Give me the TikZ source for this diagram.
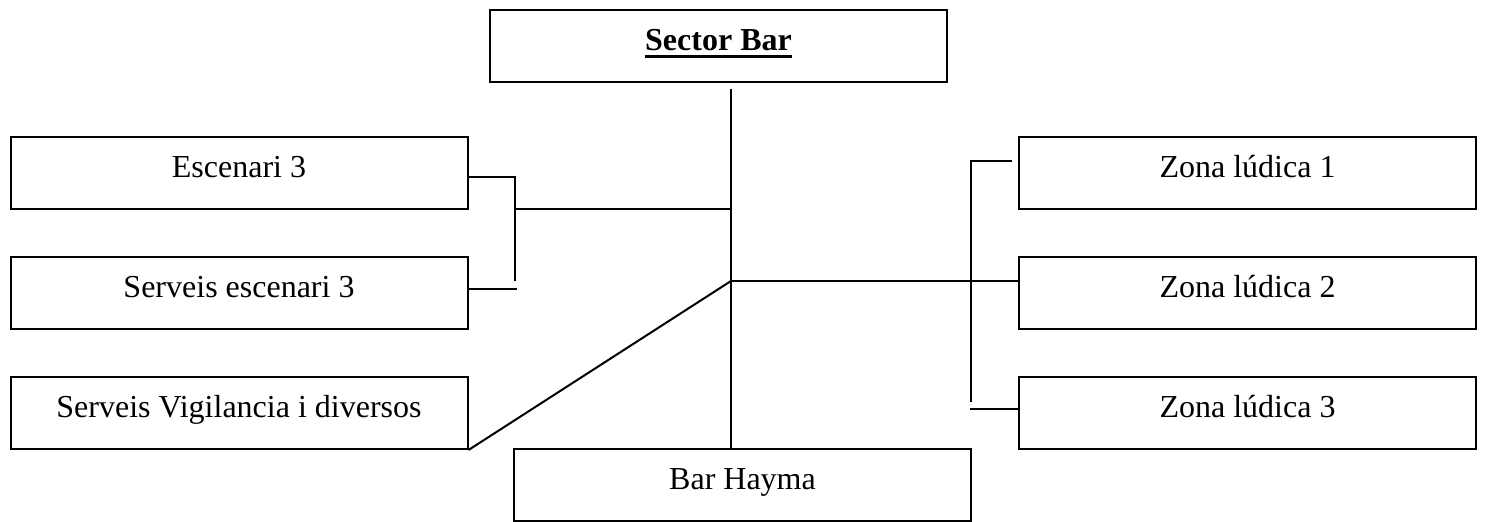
\documentclass[tikz,border=0pt]{standalone}
\usepackage{fontspec}
\setmainfont{Liberation Serif}
\usetikzlibrary{calc}
% thick underline under a word
\newcommand\thickul[1]{\setbox0\hbox{#1}\rlap{\rule[-3.4pt]{\wd0}{1.6pt}}\box0}
\begin{document}
\begin{tikzpicture}[x=0.5pt,y=-0.5pt,
  box/.style={draw,line width=1pt,rectangle,inner sep=0pt,
    minimum width=228.5pt,minimum height=36pt,
    text height=20.5pt,text depth=15.5pt,
    font=\fontsize{16}{19}\selectfont},
  link/.style={line width=1pt}]
\useasboundingbox (0,0) rectangle (1485,522);

% boxes
\node[box] (sector) at (718.5,46) {\thickul{\textbf{Sector Bar}}};
\node[box] (esc)   at (239,173) {Escenari 3};
\node[box] (serv)  at (239,293) {Serveis escenari 3};
\node[box] (vig)   at (239,413) {Serveis Vigilancia i diversos};
\node[box] (z1)    at (1247.5,173) {Zona lúdica 1};
\node[box] (z2)    at (1247.5,293) {Zona lúdica 2};
\node[box] (z3)    at (1247.5,413) {Zona lúdica 3};
\node[box] (hayma) at (742.5,485) {Bar Hayma};

% junction points
\coordinate (trunktop) at (731,89);
\coordinate (hub) at (731,281);
\coordinate (ljoin) at (515,209);
\coordinate (ltop) at (515,177);
\coordinate (lbot) at (515,281);
\coordinate (rtop) at (971,161);
\coordinate (rbot) at (971,402);

% central trunk
\draw[link] (trunktop) -- (trunktop |- hayma.north);

% left bracket for the stage boxes
\draw[link] ($(esc.east)+(0,4)$) -- (ltop) -- (lbot);
\draw[link] ($(serv.east)+(0,-4)$) -- ($(serv.east)+(48,-4)$);
\draw[link] (ljoin) -- (ljoin -| trunktop);

% diagonal to the security box
\draw[link] (vig.south east) -- (hub);

% right side
\draw[link] (hub) -- (hub -| z2.west);
\draw[link] ($(rtop)+(41,0)$) -- (rtop) -- (rbot);
\draw[link] ($(z3.west)+(0,-4)$) -- ($(z3.west)+(-48,-4)$);
\end{tikzpicture}
\end{document}
